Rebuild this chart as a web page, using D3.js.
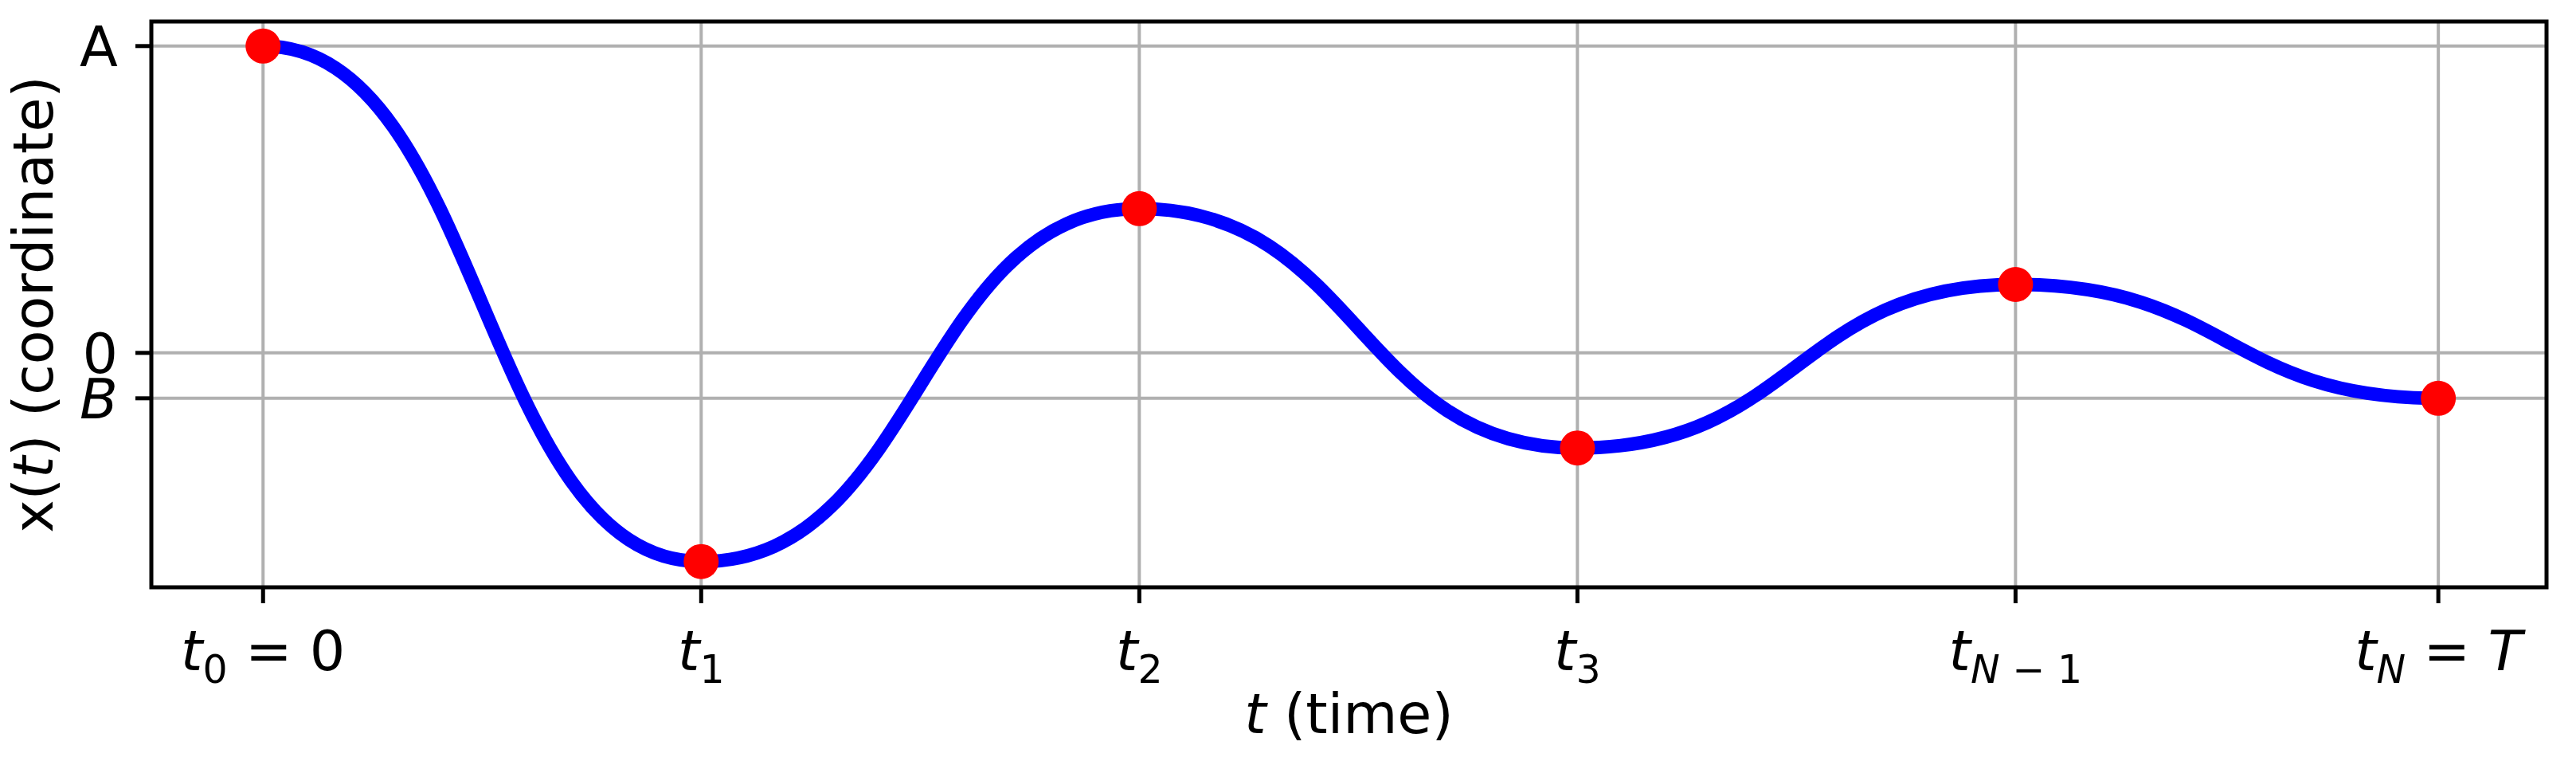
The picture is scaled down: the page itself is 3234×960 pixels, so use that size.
<!DOCTYPE html>
<html>
<head>
<meta charset="utf-8">
<script src="https://cdn.jsdelivr.net/npm/d3@7"></script>
<style>
  body { margin: 0; background: #fff; }
  text { font-family: "DejaVu Sans", sans-serif; }
</style>
</head>
<body>
<div id="chart"></div>
<script>
// knot times and coordinates
var times = [0, 1, 2, 3, 4, 4.965];
var coords = [1, -0.68, 0.47, -0.31, 0.223, -0.148];
var xTickLabels = [["t", "0", " = 0"], ["t", "1", ""], ["t", "2", ""], ["t", "3", ""], ["t", "N \u2212 1", ""], ["t", "N", " = T"]];
var yTickValues = [1, 0, -0.148];
var yTickLabels = ["A", "0", "B"];

var W = 3234, H = 960;
var margin = {top: 27, right: 37, bottom: 223, left: 190};
var width = W - margin.left - margin.right;
var height = H - margin.top - margin.bottom;
var fs = 70;

var svg = d3.select("#chart").append("svg")
  .attr("width", W).attr("height", H);

var g = svg.append("g")
  .attr("transform", "translate(" + margin.left + "," + margin.top + ")");

var x = d3.scaleLinear().domain([-0.255, 5.212]).range([0, width]);
var y = d3.scaleLinear().domain([-0.764, 1.08]).range([height, 0]);

// grid
g.selectAll(".vgrid").data(times).enter().append("line")
  .attr("x1", d => x(d)).attr("x2", d => x(d))
  .attr("y1", 0).attr("y2", height)
  .attr("stroke", "#b0b0b0").attr("stroke-width", 4);
g.selectAll(".hgrid").data(yTickValues).enter().append("line")
  .attr("y1", d => y(d)).attr("y2", d => y(d))
  .attr("x1", 0).attr("x2", width)
  .attr("stroke", "#b0b0b0").attr("stroke-width", 4);

// curve: flat tangent at every knot
var pts = times.map((t, i) => [t, coords[i]]);
g.append("path").datum(pts)
  .attr("d", d3.line().x(d => x(d[0])).y(d => y(d[1])).curve(d3.curveBumpX))
  .attr("fill", "none").attr("stroke", "#0000ff").attr("stroke-width", 17);

g.selectAll(".dot").data(pts).enter().append("circle")
  .attr("cx", d => x(d[0])).attr("cy", d => y(d[1]))
  .attr("r", 22).attr("fill", "#ff0000");

// frame
g.append("rect").attr("width", width).attr("height", height)
  .attr("fill", "none").attr("stroke", "#000").attr("stroke-width", 5);

// x ticks
g.selectAll(".xtick").data(times).enter().append("line")
  .attr("x1", d => x(d)).attr("x2", d => x(d))
  .attr("y1", height).attr("y2", height + 20)
  .attr("stroke", "#000").attr("stroke-width", 5);

var xt = g.selectAll(".xlab").data(times).enter().append("text")
  .attr("x", d => x(d)).attr("y", height + 104)
  .attr("text-anchor", "middle").attr("font-size", fs);
xt.each(function (d, i) {
  var lab = xTickLabels[i], t = d3.select(this);
  t.append("tspan").attr("font-style", "italic").text(lab[0]);
  var sub = t.append("tspan").attr("font-size", fs * 0.7).attr("dy", 16);
  if (lab[1].indexOf("N") === 0) {
    sub.append("tspan").attr("font-style", "italic").text("N");
    if (lab[1].length > 1) sub.append("tspan").text(lab[1].slice(1));
  } else sub.text(lab[1]);
  if (lab[2]) {
    var rest = t.append("tspan").attr("dy", -16);
    if (lab[2].indexOf("T") >= 0) {
      rest.text(" = ");
      t.append("tspan").attr("font-style", "italic").text("T");
    } else rest.text(lab[2]);
  }
});

// y ticks
g.selectAll(".ytick").data(yTickValues).enter().append("line")
  .attr("x1", -20).attr("x2", 0)
  .attr("y1", d => y(d)).attr("y2", d => y(d))
  .attr("stroke", "#000").attr("stroke-width", 5);
g.selectAll(".ylab").data(yTickValues).enter().append("text")
  .attr("x", -42).attr("y", d => y(d)).attr("dy", "0.36em")
  .attr("text-anchor", "end").attr("font-size", fs)
  .attr("font-style", (d, i) => yTickLabels[i] === "B" ? "italic" : "normal")
  .text((d, i) => yTickLabels[i]);

// axis labels
var xl = svg.append("text")
  .attr("x", margin.left + width / 2).attr("y", 920)
  .attr("text-anchor", "middle").attr("font-size", fs);
xl.append("tspan").attr("font-style", "italic").text("t");
xl.append("tspan").text(" (time)");

var yl = svg.append("text")
  .attr("transform", "translate(66," + (margin.top + height / 2) + ") rotate(-90)")
  .attr("text-anchor", "middle").attr("font-size", fs);
yl.append("tspan").text("x(");
yl.append("tspan").attr("font-style", "italic").text("t");
yl.append("tspan").text(") (coordinate)");
</script>
</body>
</html>
